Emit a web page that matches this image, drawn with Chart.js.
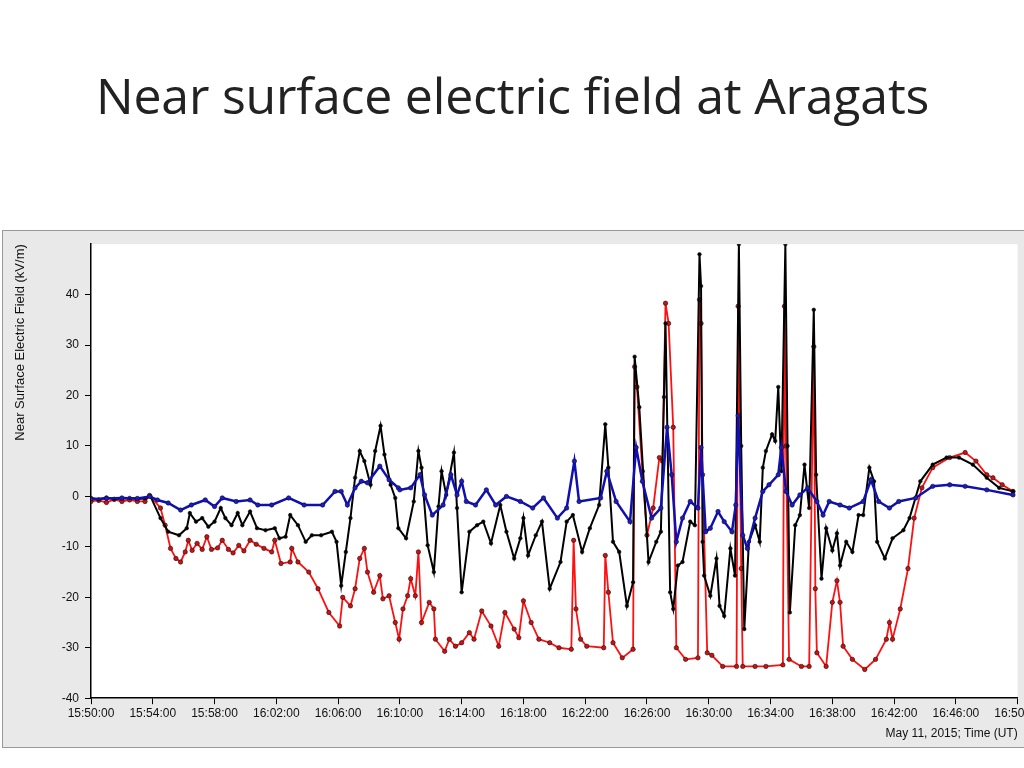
<!DOCTYPE html>
<html><head><meta charset="utf-8">
<script src="https://cdn.jsdelivr.net/npm/chart.js@4"></script>
<style>
body{margin:0;background:#fff;width:1024px;height:768px;overflow:hidden;position:relative;font-family:"Liberation Sans",Arial,sans-serif}
#title{position:absolute;left:96px;top:61px;font-family:"Open Sans",sans-serif;font-size:50px;color:#222;white-space:nowrap;letter-spacing:-0.2px}
#box{position:absolute;left:2px;top:230px;width:1022px;height:516px;background:#e9e9e9;border:1px solid #999;border-right:none;overflow:hidden}
#c{position:absolute;left:0;top:0}
</style></head><body>
<div id="title">Near surface electric field at Aragats</div>
<div id="box"><canvas id="c" width="1040" height="516"></canvas></div>
<script>
// minutes after 15:50:00 UT, field in kV/m
const redT=[0,0.5,1,1.5,2,2.5,3,3.5,3.79,4.5,4.8,5.15,5.5,5.8,6.1,6.3,6.55,6.87,7.2,7.5,7.8,8.2,8.5,8.9,9.2,9.57,9.9,10.3,10.7,11.2,11.7,11.9,12.3,12.9,13.0,13.4,14.1,14.7,15.4,16.1,16.3,16.8,17.1,17.4,17.7,17.9,18.3,18.7,18.9,19.3,19.7,19.95,20.2,20.5,20.7,21.0,21.2,21.4,21.9,22.2,22.3,22.9,23.2,23.6,24.0,24.5,24.8,25.3,25.9,26.4,26.8,27.4,27.7,28.0,28.5,29.0,29.7,30.3,31.1,31.25,31.4,31.7,32.1,33.2,33.3,33.5,33.8,34.4,35.1,35.2,35.35,35.7,36.0,36.4,36.8,37.0,37.2,37.4,37.7,37.9,38.5,39.3,39.4,39.5,39.6,39.9,40.2,40.9,41.8,41.9,42.1,42.2,43.0,43.7,44.8,44.9,45.0,45.2,46.0,46.5,46.8,46.9,47.0,47.6,48.0,48.3,48.5,48.7,49.3,50.1,50.8,51.5,51.7,51.9,52.4,52.9,53.3,53.8,54.5,55.6,56.6,57.3,58.0,58.4,59.0,59.7];
const redV=[-1,-0.8,-1.2,-0.6,-1,-0.7,-1,-1,0.2,-2.3,-5.7,-10.3,-12.3,-13,-11,-8.7,-10.7,-9.3,-10.5,-8,-10.5,-10.2,-8.7,-10.5,-11.2,-9.7,-10.8,-8.7,-9.5,-10.3,-11,-8.7,-13.3,-13,-10.3,-13,-15,-18.3,-23,-25.7,-20,-21.7,-18.3,-12.3,-10.3,-15,-19,-15.7,-20.3,-19.7,-25,-28.3,-22.3,-19.7,-16.3,-19.7,-11,-25,-21,-22.3,-28.3,-30.7,-28.3,-29.7,-29,-27,-28.3,-22.7,-25.7,-29.7,-23,-26.3,-28,-20.7,-25,-28.3,-29,-30,-30.3,-8.7,-22.3,-28.3,-29.7,-30,-11.7,-19,-29,-32,-30.3,25.7,21.7,5,-7.7,-2.3,7.7,7,38.3,34.3,13.7,-30,-32.3,-32,39,34.3,4.3,-31,-31.5,-33.7,-33.7,37.7,-14.3,-33.7,-33.7,-33.7,-33.4,37.7,10,-32.3,-33.7,-33.7,29.7,-18.3,-31,-33.7,-21,-16.7,-21,-29.7,-32.3,-34.3,-32.3,-28.3,-25,-28.3,-22.3,-14.3,-4.3,1.7,5.7,7.7,8.7,7,4.3,3.7,2.3,1];
const blackT=[0,0.5,1,1.5,2,2.5,3,3.5,3.85,4.5,5.0,5.7,6.2,6.4,6.8,7.2,7.6,8.0,8.4,8.7,9.1,9.5,9.8,10.3,10.75,11.3,11.9,12.2,12.6,12.9,13.4,13.9,14.3,14.9,15.6,15.9,16.2,16.5,16.8,17.1,17.4,17.7,18.1,18.4,18.75,19.0,19.4,19.7,19.9,20.4,20.9,21.2,21.4,21.8,22.2,22.5,22.7,23.0,23.5,23.7,24.0,24.5,25.0,25.4,25.9,26.5,26.9,27.4,27.8,28.0,28.3,28.8,29.2,29.7,30.4,30.8,31.2,31.8,32.3,32.9,33.3,33.5,33.8,34.2,34.7,35.1,35.2,35.5,36.1,36.6,36.9,37.1,37.2,37.5,37.7,38.0,38.3,38.8,39.1,39.4,39.5,39.6,39.7,40.1,40.5,40.7,41.0,41.4,41.7,41.95,42.1,42.3,42.6,43.0,43.3,43.5,43.7,44.1,44.3,44.5,44.7,44.96,45.1,45.25,45.6,45.9,46.2,46.5,46.8,46.95,47.3,47.6,48.0,48.3,48.5,48.9,49.3,49.7,50.0,50.4,50.7,50.9,51.4,51.9,52.6,53.0,53.7,54.5,55.4,56.2,57.1,58.0,58.8,59.7];
const blackV=[-0.3,-0.6,-0.2,-0.5,-0.4,-0.3,-0.5,-0.4,0,-4.3,-7,-7.7,-6.3,-3.3,-5,-4.3,-6,-5,-2.3,-4.3,-5.7,-3.3,-5.7,-3,-6.3,-6.7,-6.3,-8.3,-8,-3.7,-5.7,-9,-7.7,-7.7,-7,-9,-17.7,-11,-4.3,3.7,9,7,2.3,9,14,8.3,2.3,-0.3,-6.3,-8.3,-1,9,5.7,-9.7,-15,-2,5,0.3,8.7,-2.3,-19,-7,-5.7,-5,-9.3,-1.7,-7,-12.3,-8.3,-4.3,-11.7,-7.7,-5,-18.3,-13,-5,-3.7,-11,-6.3,-1.7,14.3,5.7,-9,-11,-21.7,-17,27.7,17.7,-13,-9,-7,19.7,34.3,-19,-22.3,-13.7,-13,-5,-5.7,48,41.7,-9,-15.7,-19.7,-12.3,-21.7,-23.7,-10.3,-15.7,50,10,-26.3,-9,-5.7,-9,5.7,9,12.3,11,21.7,5,50,10,-23,-5.7,-3.7,6.3,-2.3,37,4.3,-16.3,-6.3,-10.7,-7.3,-13.7,-9,-11,-3.7,-3.7,5.7,3,-9,-12.3,-8.3,-6.7,-4.3,3,6.3,7.7,7.7,6.3,3.7,1.7,1];
const blueT=[0,1,2,3,3.8,4.3,5.0,5.8,6.5,7.4,8.0,8.5,9.4,10.3,10.8,11.7,12.8,13.8,15.0,15.8,16.2,16.6,17.1,17.5,17.9,18.7,19.3,19.9,20.0,20.7,21.3,21.6,22.1,22.8,23.3,23.7,24.0,24.3,24.9,25.6,26.2,26.9,27.8,28.6,29.3,30.2,30.8,31.3,31.6,33.0,33.4,34.0,34.9,35.3,35.7,36.3,36.9,37.3,37.6,37.9,38.3,38.8,39.3,39.5,39.8,40.1,40.6,41.0,41.5,41.75,41.9,42.2,42.5,43.0,43.5,43.9,44.5,44.7,45.0,45.4,45.9,46.4,47.0,47.4,47.8,48.5,49.1,50.0,50.5,51.0,51.7,52.3,53.4,54.5,55.6,56.6,58.0,59.7];
const blueV=[-0.5,-0.4,-0.3,-0.4,0,-0.7,-1.3,-2.7,-1.7,-0.7,-2,-0.3,-1,-0.7,-1.7,-1.7,-0.3,-1.7,-1.7,1,1,-1.7,1.7,3,2.7,6,3.3,1.7,1.3,1.7,4.3,0.3,-3.7,-1.7,4.3,0.3,3,-1,-1.7,1.3,-1.7,0,-1,-2.3,-0.3,-4.3,-2.3,7,-1,-0.3,5,-1,-5,9.7,3,-4.3,-2.3,13.7,4.3,-9,-4.3,-1,-2.3,9.7,-7,-6.3,-3,-5,-7,-1.7,16,-7.7,-10.3,-4.3,1,2.3,4.3,9.7,1,-1.7,0.3,1.7,-1,-3.7,-1,-1.7,-2.3,-1,3.3,-1,-2.3,-1,-0.3,2,2.3,2,1.3,0.3];
const xTickLabels=["15:50:00","15:54:00","15:58:00","16:02:00","16:06:00","16:10:00","16:14:00","16:18:00","16:22:00","16:26:00","16:30:00","16:34:00","16:38:00","16:42:00","16:46:00","16:50:00"];
const yTicks=[-40,-30,-20,-10,0,10,20,30,40];

const pts=(t,v)=>t.map((x,i)=>({x:x,y:v[i]}));
const ds=(label,t,v,line,fill,r,w)=>({label,data:pts(t,v),borderColor:line,backgroundColor:fill,pointBorderColor:'#111',pointBorderWidth:0.6,pointRadius:r,borderWidth:w,showLine:true,tension:0});
const F={family:'"Liberation Sans",Arial',size:12};
new Chart(document.getElementById('c'),{
  type:'scatter',
  data:{datasets:[
    ds('Blue',blueT,blueV,'#1010b0','#1a1ad0',2.2,2.5),
    ds('Black',blackT,blackV,'#000','#000',1.8,2),
    ds('Red',redT,redV,'#ff1010','#d01010',2.2,1.8)
  ]},
  options:{
    responsive:false,animation:false,devicePixelRatio:1,
    layout:{padding:{left:0,top:13,right:0,bottom:0}},
    plugins:{legend:{display:false},tooltip:{enabled:false}},
    scales:{
      x:{type:'linear',min:0,max:60,
        afterBuildTicks:s=>{s.ticks=xTickLabels.map((_,i)=>({value:i*4}));},
        ticks:{callback:(v)=>xTickLabels[Math.round(v/4)],color:'#111',font:F,maxRotation:0,autoSkip:false,padding:2},
        grid:{drawOnChartArea:false,color:'#000',tickLength:6},border:{color:'#000',width:1.5},
        title:{display:true,text:'May 11, 2015; Time (UT)',align:'end',color:'#111',font:F,padding:{top:4,bottom:6}}},
      y:{min:-40,max:50,
        afterBuildTicks:s=>{s.ticks=yTicks.map(v=>({value:v}));},
        afterFit:s=>{s.width=88;},
        ticks:{color:'#111',font:F,padding:6},
        grid:{drawOnChartArea:false,color:'#000',tickLength:6},border:{color:'#000',width:1.5},
        title:{display:true,text:'Near Surface Electric Field (kV/m)',align:'end',color:'#111',font:{family:'"Liberation Sans",Arial',size:13},padding:{top:10,bottom:0}}}
    }
  },
  plugins:[{id:'bg',beforeDraw(ch){const a=ch.chartArea,c=ch.ctx;c.save();c.fillStyle='#fff';c.fillRect(a.left,a.top,a.right-a.left,a.bottom-a.top);c.restore();}}]
});
</script>
</body></html>
